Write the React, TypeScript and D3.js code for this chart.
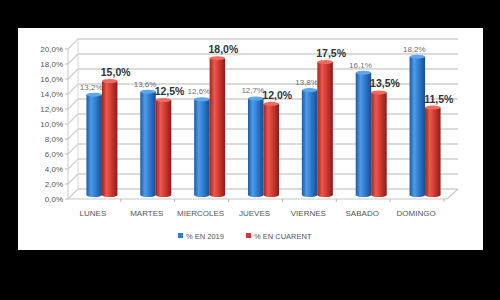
import React from "react";
import * as d3 from "d3";

const days = ["LUNES", "MARTES", "MIERCOLES", "JUEVES", "VIERNES", "SABADO", "DOMINGO"];
const values2019 = [13.2, 13.6, 12.6, 12.7, 13.8, 16.1, 18.2];
const valuesCuarent = [15.0, 12.5, 18.0, 12.0, 17.5, 13.5, 11.5];
const seriesNames = ["% EN 2019", "% EN CUARENT"];
const yTicks = [0, 2, 4, 6, 8, 10, 12, 14, 16, 18, 20];

const fmt = (v: number) => v.toFixed(1).replace(".", ",") + "%";

export default function App() {
  const W = 500, H = 300;
  const yFront = d3.scaleLinear().domain([0, 20]).range([199, 49]);
  const yBack = d3.scaleLinear().domain([0, 20]).range([189, 39]);
  const yBar = d3.scaleLinear().domain([0, 20]).range([195, 43]);
  const x = d3.scaleBand<string>().domain(days).range([75, 452]).paddingInner(0.4245).paddingOuter(0.21225);
  const xs = d3.scaleBand<string>().domain(["a", "b"]).range([0, x.bandwidth()]);
  const bw = xs.bandwidth();
  const font = "'Liberation Sans', Arial, sans-serif";
  const step = x.step();
  const backLeft = 78, backRight = 458, frontLeft = 68, frontRight = 447;

  const bar = (cx: number, v: number, grad: string, topFill: string, key: string) => {
    const y0 = yBar(0), y1 = yBar(v);
    return (
      <g key={key}>
        <rect x={cx} y={y1} width={bw} height={y0 - y1} fill={`url(#${grad})`} />
        <ellipse cx={cx + bw / 2} cy={y0} rx={bw / 2} ry={2} fill={`url(#${grad})`} />
        <ellipse cx={cx + bw / 2} cy={y1} rx={bw / 2} ry={2} fill={topFill} />
      </g>
    );
  };

  return (
    <svg width={W} height={H} style={{ position: "fixed", left: 0, top: 0, display: "block" }}>
      <defs>
        <linearGradient id="gBlue" x1="0" x2="1" y1="0" y2="0">
          <stop offset="0%" stopColor="#1d5aa3" />
          <stop offset="30%" stopColor="#4d9cea" />
          <stop offset="60%" stopColor="#2f7bd0" />
          <stop offset="100%" stopColor="#1b4d8c" />
        </linearGradient>
        <linearGradient id="gRed" x1="0" x2="1" y1="0" y2="0">
          <stop offset="0%" stopColor="#a3221c" />
          <stop offset="30%" stopColor="#ea5a4f" />
          <stop offset="60%" stopColor="#d2392f" />
          <stop offset="100%" stopColor="#8c1c17" />
        </linearGradient>
      </defs>
      <rect x={0} y={0} width={W} height={H} fill="#000" />
      <rect x={18} y={28} width={465} height={222} fill="#fff" />
      {yTicks.map((t) => (
        <g key={"g" + t}>
          <line x1={backLeft} x2={backRight} y1={yBack(t)} y2={yBack(t)} stroke="#cfcfcf" strokeWidth={1.4} />
          <line x1={frontLeft} x2={backLeft} y1={yFront(t)} y2={yBack(t)} stroke="#cfcfcf" strokeWidth={1.2} />
          <line x1={frontLeft - 3} x2={frontLeft} y1={yFront(t)} y2={yFront(t)} stroke="#bbb" strokeWidth={1} />
          <text x={63} y={yFront(t) + 3} textAnchor="end" fontSize={8} fontFamily={font} fill="#555">
            {fmt(t)}
          </text>
        </g>
      ))}
      <line x1={backLeft} x2={backLeft} y1={yBack(0)} y2={yBack(20)} stroke="#d8d8d8" strokeWidth={1} />
      <line x1={frontLeft} x2={frontLeft} y1={yFront(0)} y2={yFront(20)} stroke="#c8c8c8" strokeWidth={1} />
      <line x1={frontLeft} x2={frontRight} y1={yFront(0)} y2={yFront(0)} stroke="#c8c8c8" strokeWidth={1.2} />
      <line x1={frontRight} x2={backRight} y1={yFront(0)} y2={yBack(0)} stroke="#c8c8c8" strokeWidth={1.2} />
      {days.map((d, i) => (
        <line key={"t" + d} x1={frontLeft + i * step + step - 1} x2={frontLeft + i * step + step - 1} y1={yFront(0)} y2={yFront(0) + 3} stroke="#bbb" />
      ))}
      {days.map((d, i) => {
        const bx = x(d)!;
        return (
          <g key={d}>
            {bar(bx + xs("a")!, values2019[i], "gBlue", "#5aa6f0", "b" + d)}
            {bar(bx + xs("b")!, valuesCuarent[i], "gRed", "#ee6b60", "r" + d)}
          </g>
        );
      })}
      {days.map((d, i) => {
        const bx = x(d)!;
        return (
          <g key={"l" + d}>
            <text x={bx + xs("a")! + bw / 2 - 3} y={yBar(values2019[i]) - 5} textAnchor="middle" fontSize={8} fontFamily={font} fill="#707070">
              {fmt(values2019[i])}
            </text>
            <text x={bx + xs("b")! + bw / 2 + 6} y={yBar(valuesCuarent[i]) - 5} textAnchor="middle" fontSize={10.5} fontWeight="bold" fontFamily={font} fill="#333">
              {fmt(valuesCuarent[i])}
            </text>
            <text x={bx + x.bandwidth() / 2 - 9} y={216} textAnchor="middle" fontSize={8} fontFamily={font} fill="#555">
              {d}
            </text>
          </g>
        );
      })}
      <rect x={178} y={233} width={5} height={5} fill="#2f7bd0" />
      <text x={186} y={238.5} fontSize={7.5} fontFamily={font} fill="#555">{seriesNames[0]}</text>
      <rect x={246} y={233} width={5} height={5} fill="#d2392f" />
      <text x={254} y={238.5} fontSize={7.5} fontFamily={font} fill="#555">{seriesNames[1]}</text>
    </svg>
  );
}
